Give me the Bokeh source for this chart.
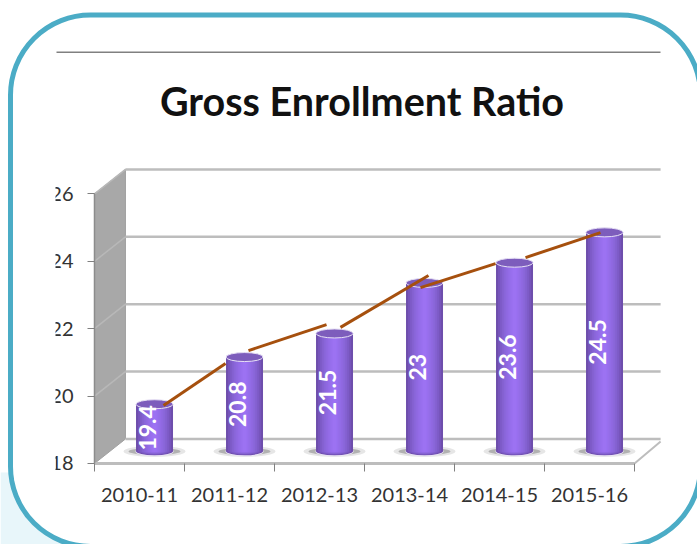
from bokeh.plotting import figure
from bokeh.models import (LinearAxis, FixedTicker, Range1d, BoxAnnotation, Label,
                          ColumnDataSource)
from bokeh.core.properties import value
from bokeh.embed import file_html
from bokeh.resources import INLINE

categories = ["2010-11", "2011-12", "2012-13", "2013-14", "2014-15", "2015-16"]
ratio = [19.4, 20.8, 21.5, 23, 23.6, 24.5]
labels = ["19.4", "20.8", "21.5", "23", "23.6", "24.5"]
y_ticks = [18, 20, 22, 24, 26]

# hand-drawn brown connector: pieces (category position, value)
conn_x0 = [0.267, 1.211, 2.233, 3.122, 4.289]
conn_y0 = [19.72, 21.35, 22.04, 23.22, 24.11]
conn_x1 = [0.956, 2.078, 3.211, 3.956, 5.122]
conn_y1 = [20.97, 22.12, 23.58, 23.93, 24.85]

# 3-D look: depth of the box in axis units
DX, DY = 0.344, 0.727
x0_axis, x1_axis = -0.5, 5.5
x_clip = 5.79
y0 = y_ticks[0]
y1 = y_ticks[-1]
xs = [i + DX / 2 * 0.97 for i in range(len(categories))]
lift = DY / 2 - 0.005                       # cylinders stand mid-way into the depth
base = y0 + lift
tops = [v + lift for v in ratio]

W, H = 697, 544
p = figure(width=W, height=H, output_backend="svg", toolbar_location=None,
           x_axis_type=None, y_axis_type=None, min_border=0,
           x_range=Range1d(-1.5444, 6.2), y_range=Range1d(15.596, 31.739),
           outline_line_color=None, background_fill_color="white",
           border_fill_color="white")
p.grid.visible = False

def screen_box(left, right, top, bottom, **kw):
    return BoxAnnotation(left=left, right=right, top=H - top, bottom=H - bottom,
                         left_units="screen", right_units="screen",
                         top_units="screen", bottom_units="screen", **kw)

# page background tint at the lower-left corner, then the rounded frame
p.add_layout(screen_box(0, 70, 472, H, fill_color="#E8F6FA", fill_alpha=1, line_color=None,
                        level="underlay"))
p.add_layout(screen_box(10, 700, 14.5, 546, fill_color="white", fill_alpha=1, line_color="#4BACC6",
                        line_width=5, line_alpha=1, border_radius=80, level="underlay"))

# left wall and floor
p.patch([x0_axis, x0_axis + DX, x0_axis + DX, x0_axis],
        [y1, y1 + DY, y0 + DY, y0], fill_color="#A8A8A8", line_color="#A0A0A0", line_width=1)
p.segment([x0_axis] * 4, y_ticks[1:], [x0_axis + DX] * 4, [v + DY for v in y_ticks[1:]],
          line_color="#B8B8B8", line_width=1.5)
# back wall gridlines
p.segment([x0_axis + DX] * 5, [v + DY for v in y_ticks], [x_clip] * 5, [v + DY for v in y_ticks],
          line_color="#BDBDBD", line_width=2.5)
# floor edges
p.segment([x0_axis], [y0], [x1_axis], [y0], line_color="#BDBDBD", line_width=3)
p.segment([x1_axis], [y0], [x_clip], [y0 + DY * 0.9], line_color="#BDBDBD", line_width=2)

# shadows under the cylinders
base_y = [base] * 6
p.ellipse(xs, base_y, width=62, height=11, width_units="screen", height_units="screen",
          fill_color="#9A9A9A", fill_alpha=0.25, line_color=None)
p.ellipse(xs, base_y, width=52, height=7, width_units="screen", height_units="screen",
          fill_color="#707070", fill_alpha=0.45, line_color=None)

# cylinders: nested shades give the horizontal gradient
BAR_W = 37
shades = ["#6E4EAC", "#7755BC", "#7E5CC8", "#8562D2", "#8B67DB", "#9069E2", "#946DE8", "#986FEE", "#9C72F2"]
# pale edge
p.ellipse(xs, base_y, width=BAR_W + 1, height=10, width_units="screen", height_units="screen",
          fill_color="#E9E4F4", line_color=None)
for k, col in enumerate(shades):
    frac = 1 - k / len(shades)
    half = frac * BAR_W / 2 / 90
    p.quad(left=[x - half for x in xs], right=[x + half for x in xs],
           bottom=base_y, top=tops, fill_color=col, line_color=None)
    p.ellipse(xs, [base + 0.01] * 6, width=frac * BAR_W, height=frac * 8.5,
              width_units="screen", height_units="screen", fill_color=col, line_color=None)
# cylinder tops
p.ellipse(xs, tops, width=BAR_W, height=9, width_units="screen", height_units="screen",
          fill_color="#7D5DBC", line_color="#E6E0F4", line_width=1)

# brown connector
p.segment(conn_x0, conn_y0, conn_x1, conn_y1, line_color="#A6500E", line_width=3)

# value labels inside the cylinders
src = ColumnDataSource(dict(x=xs, y=[(v + base) / 2 for v in tops], t=labels))
p.text("x", "y", text="t", source=src, angle=1.5708, x_offset=-7, text_align="center",
       text_baseline="middle", text_color="white", text_font=value("Lato"),
       text_font_style="bold", text_font_size="23px")

# axes
yax = LinearAxis(ticker=FixedTicker(ticks=y_ticks), fixed_location=x0_axis, bounds=(y0, y1),
                 axis_line_color="#8C8C8C", axis_line_width=1.5,
                 major_tick_line_color="#808080", major_tick_out=7, major_tick_in=0,
                 minor_tick_line_color=None, major_label_standoff=14,
                 major_label_text_font="Lato", major_label_text_font_size="20px",
                 major_label_text_color="#333333")
p.add_layout(yax, "left")

xt = LinearAxis(ticker=FixedTicker(ticks=[i - 0.5 for i in range(len(categories) + 1)]),
                fixed_location=y0, bounds=(x0_axis, x1_axis), axis_line_color=None,
                major_tick_line_color="#808080", major_tick_out=8, major_tick_in=0,
                minor_tick_line_color=None,
                major_label_overrides={i - 0.5: "" for i in range(len(categories) + 1)})
p.add_layout(xt, "below")

xl = LinearAxis(ticker=FixedTicker(ticks=list(range(len(categories)))),
                fixed_location=y0, axis_line_color=None, major_tick_line_color=None,
                minor_tick_line_color=None, major_tick_out=0, major_tick_in=0,
                major_label_standoff=25,
                major_label_overrides={i: c for i, c in enumerate(categories)},
                major_label_text_font="Lato", major_label_text_font_size="20px",
                major_label_text_color="#333333")
p.add_layout(xl, "below")

# the picture crops the first digit of the y labels
p.add_layout(screen_box(14, 55, 170, 480, fill_color="white", fill_alpha=1, line_color=None,
                        level="overlay"))

# rule and title
p.add_layout(screen_box(56, 660, 51, 52.5, fill_color="#808080", fill_alpha=1, line_color=None,
                        level="annotation"))
p.add_layout(Label(x=361.5, y=H - 100, x_units="screen", y_units="screen",
                   text="Gross Enrollment Ratio", text_align="center", text_baseline="middle",
                   text_font="Lato", text_font_style="bold", text_font_size="39.5px",
                   text_color="#111111"))

open("out.html", "w").write(file_html(p, INLINE))
